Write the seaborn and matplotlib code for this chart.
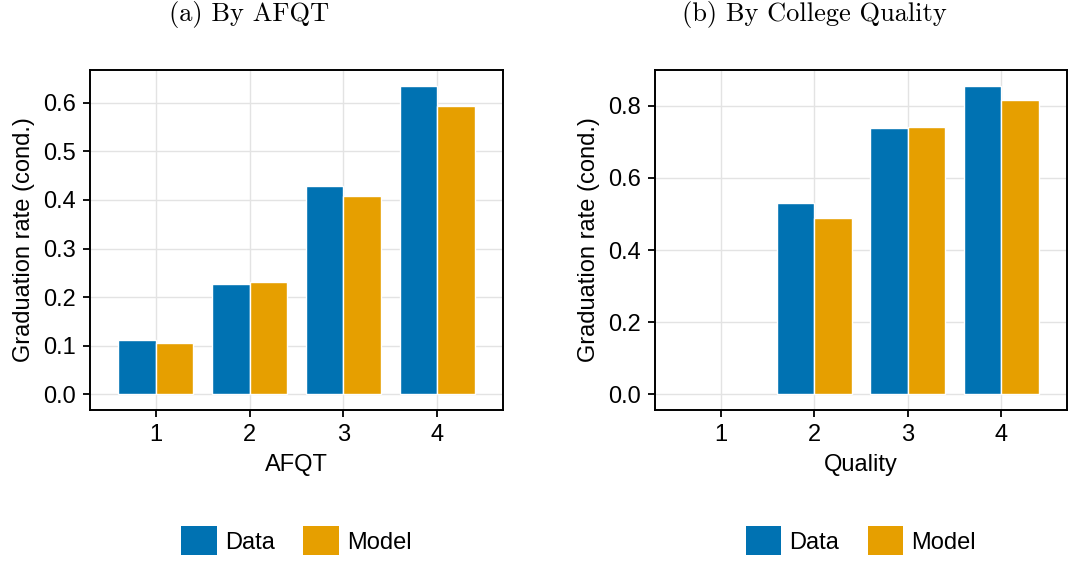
import numpy as np
import pandas as pd
import seaborn as sns
import matplotlib
matplotlib.use("Agg")
import matplotlib.pyplot as plt
from matplotlib.patches import Patch
from matplotlib.ticker import FormatStrFormatter, MultipleLocator

# ---- data ----
categories = ["1", "2", "3", "4"]
series_names = ["Data", "Model"]
afqt_data = [0.111, 0.228, 0.429, 0.635]
afqt_model = [0.105, 0.232, 0.407, 0.592]
quality_data = [np.nan, 0.531, 0.739, 0.856]
quality_model = [np.nan, 0.489, 0.742, 0.817]
titles = ["(a) By AFQT", "(b) By College Quality"]
xlabels = ["AFQT", "Quality"]
ylabel = "Graduation rate (cond.)"
colors = ["#0072B2", "#E69F00"]

sns.set_theme(style="white")
plt.rcParams['font.family'] = ['Liberation Sans', 'DejaVu Sans']
plt.rcParams['text.color'] = 'black'
plt.rcParams['axes.labelcolor'] = 'black'

def long_df(d, m):
    return pd.DataFrame({
        "cat": categories * 2,
        "series": [series_names[0]] * 4 + [series_names[1]] * 4,
        "value": list(d) + list(m),
    })

W, H = 1069, 566
fig = plt.figure(figsize=(W / 100, H / 100), dpi=100)
axa = fig.add_axes([90 / W, (H - 410) / H, 413 / W, 340 / H])
axb = fig.add_axes([655 / W, (H - 410) / H, 412 / W, 340 / H])

fs = 17
panels = [
    (axa, long_df(afqt_data, afqt_model), xlabels[0], 0.1, (-0.032, 0.667)),
    (axb, long_df(quality_data, quality_model), xlabels[1], 0.2, (-0.043, 0.899)),
]
for ax, df, xl, step, ylim in panels:
    sns.barplot(data=df, x="cat", y="value", hue="series", order=categories,
                hue_order=series_names, palette=colors, width=0.8,
                edgecolor="white", linewidth=1, saturation=1, legend=False,
                ax=ax, zorder=2)
    ax.set_xlim(-0.7, 3.7)
    ax.set_ylim(*ylim)
    ax.yaxis.set_major_locator(MultipleLocator(step))
    ax.yaxis.set_major_formatter(FormatStrFormatter('%.1f'))
    ax.grid(True, color="#e3e3e3", linewidth=1, zorder=0)
    ax.set_axisbelow(True)
    for s in ax.spines.values():
        s.set_color("black")
        s.set_linewidth(1.4)
        s.set_visible(True)
    ax.tick_params(axis="both", direction="out", length=5, width=1.3,
                   colors="black", labelcolor="black", labelsize=fs,
                   bottom=True, left=True, pad=5)
    ax.set_xlabel(xl, fontsize=fs, labelpad=6, color="black")
    ax.set_ylabel(ylabel, fontsize=fs, labelpad=6, color="black")
    handles = [Patch(facecolor=c, edgecolor="none", label=n)
               for c, n in zip(colors, series_names)]
    leg = ax.legend(handles=handles, loc="center", bbox_to_anchor=(0.5, -0.385),
                    ncol=2, frameon=False, fontsize=fs, handlelength=1.5,
                    handleheight=1.5, handletextpad=0.35, columnspacing=1.2)
    for t in leg.get_texts():
        t.set_color("black")

title_family = ['cmr10', 'DejaVu Serif']
fig.text(249 / W, 1 - 15 / H, titles[0], ha="center", va="center",
         fontsize=19, family=title_family, color="black")
fig.text(814 / W, 1 - 15 / H, titles[1], ha="center", va="center",
         fontsize=19, family=title_family, color="black")

fig.savefig("out.png", dpi=100)
